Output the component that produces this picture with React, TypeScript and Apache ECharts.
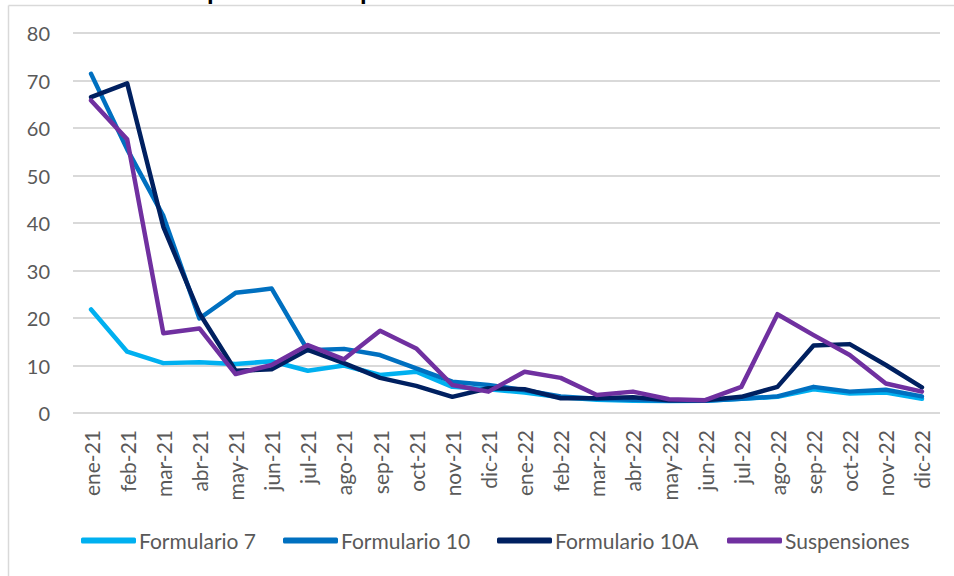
import React, { useEffect, useRef } from "react";
import * as echarts from "echarts";

const categories = [
  "ene-21", "feb-21", "mar-21", "abr-21", "may-21", "jun-21",
  "jul-21", "ago-21", "sep-21", "oct-21", "nov-21", "dic-21",
  "ene-22", "feb-22", "mar-22", "abr-22", "may-22", "jun-22",
  "jul-22", "ago-22", "sep-22", "oct-22", "nov-22", "dic-22",
];

const formulario7 = [21.8, 12.9, 10.5, 10.7, 10.3, 10.9, 8.9, 10.0, 8.0, 8.7, 5.5, 5.0, 4.3, 3.3, 2.8, 2.6, 2.5, 2.6, 3.0, 3.4, 5.0, 4.1, 4.3, 3.0];
const formulario10 = [71.4, 55.5, 41.5, 19.9, 25.3, 26.2, 13.2, 13.5, 12.2, 9.4, 6.6, 5.9, 4.8, 3.5, 3.0, 2.8, 2.6, 2.6, 3.0, 3.5, 5.5, 4.5, 4.9, 3.5];
const formulario10A = [66.5, 69.4, 39.2, 21.0, 8.9, 9.2, 13.3, 10.5, 7.4, 5.7, 3.4, 5.2, 5.0, 3.1, 3.1, 3.3, 2.7, 2.7, 3.4, 5.5, 14.2, 14.5, 10.1, 5.4];
const suspensiones = [65.8, 57.6, 16.8, 17.8, 8.2, 10.1, 14.3, 11.3, 17.3, 13.6, 5.9, 4.5, 8.7, 7.4, 3.8, 4.5, 2.9, 2.7, 5.5, 20.8, 16.4, 12.2, 6.2, 4.5];

const seriesNames = ["Formulario 7", "Formulario 10", "Formulario 10A", "Suspensiones"];
const seriesColors = ["#00B0F0", "#0070C0", "#002060", "#7030A0"];
const seriesData = [formulario7, formulario10, formulario10A, suspensiones];
const legendLefts = [76, 278, 492, 722];

const FONT = "Lato, 'Liberation Sans', sans-serif";
const GRAY = "#595959";

export default function App() {
  const ref = useRef<HTMLDivElement>(null);

  useEffect(() => {
    if (!ref.current) return;
    const chart = echarts.init(ref.current, undefined, { renderer: "svg" });
    chart.setOption({
      animation: false,
      backgroundColor: "#ffffff",
      grid: { left: 73, right: 14, top: 33, bottom: 163, containLabel: false },
      xAxis: {
        type: "category",
        data: categories,
        boundaryGap: true,
        axisLine: { show: false },
        axisTick: { show: false },
        axisLabel: {
          rotate: 90,
          margin: 17,
          color: GRAY,
          fontFamily: FONT,
          fontSize: 21,
          interval: 0,
        },
      },
      yAxis: {
        type: "value",
        min: 0,
        max: 80,
        interval: 10,
        axisLine: { show: false },
        axisTick: { show: false },
        axisLabel: {
          margin: 23,
          color: GRAY,
          fontFamily: FONT,
          fontSize: 20,
        },
        splitLine: { lineStyle: { color: "#D9D9D9", width: 2 } },
      },
      legend: seriesNames.map((n, i) => ({
        data: [n],
        left: legendLefts[i],
        top: 525,
        icon: "roundRect",
        itemWidth: 55,
        itemHeight: 6,
        itemGap: 0,
        textStyle: {
          color: GRAY,
          fontFamily: FONT,
          fontSize: 21,
          padding: [0, 0, 0, -2],
        },
      })),
      series: seriesNames.map((n, i) => ({
        name: n,
        type: "line",
        data: seriesData[i],
        symbol: "none",
        showSymbol: false,
        color: seriesColors[i],
        lineStyle: { color: seriesColors[i], width: 4.5, cap: "round", join: "round" },
        z: 2 + i,
      })),
      graphic: [
        {
          type: "text",
          x: 207,
          y: -22,
          z: 0,
          style: {
            text: "p",
            fill: "#000000",
            font: "bold 24px 'Liberation Sans', sans-serif",
          },
          silent: true,
        },
        {
          type: "text",
          x: 360,
          y: -22,
          z: 0,
          style: {
            text: "p",
            fill: "#000000",
            font: "bold 24px 'Liberation Sans', sans-serif",
          },
          silent: true,
        },
        {
          type: "line",
          z: 10,
          shape: { x1: 8.5, y1: 5.5, x2: 954, y2: 5.5 },
          style: { stroke: "#D9D9D9", lineWidth: 1.5 },
          silent: true,
        },
        {
          type: "line",
          z: 10,
          shape: { x1: 8.5, y1: 5.5, x2: 8.5, y2: 576 },
          style: { stroke: "#D9D9D9", lineWidth: 1.5 },
          silent: true,
        },
      ],
    });
    return () => chart.dispose();
  }, []);

  return (
    <div
      ref={ref}
      style={{ position: "absolute", left: 0, top: 0, width: 954, height: 576 }}
    />
  );
}
